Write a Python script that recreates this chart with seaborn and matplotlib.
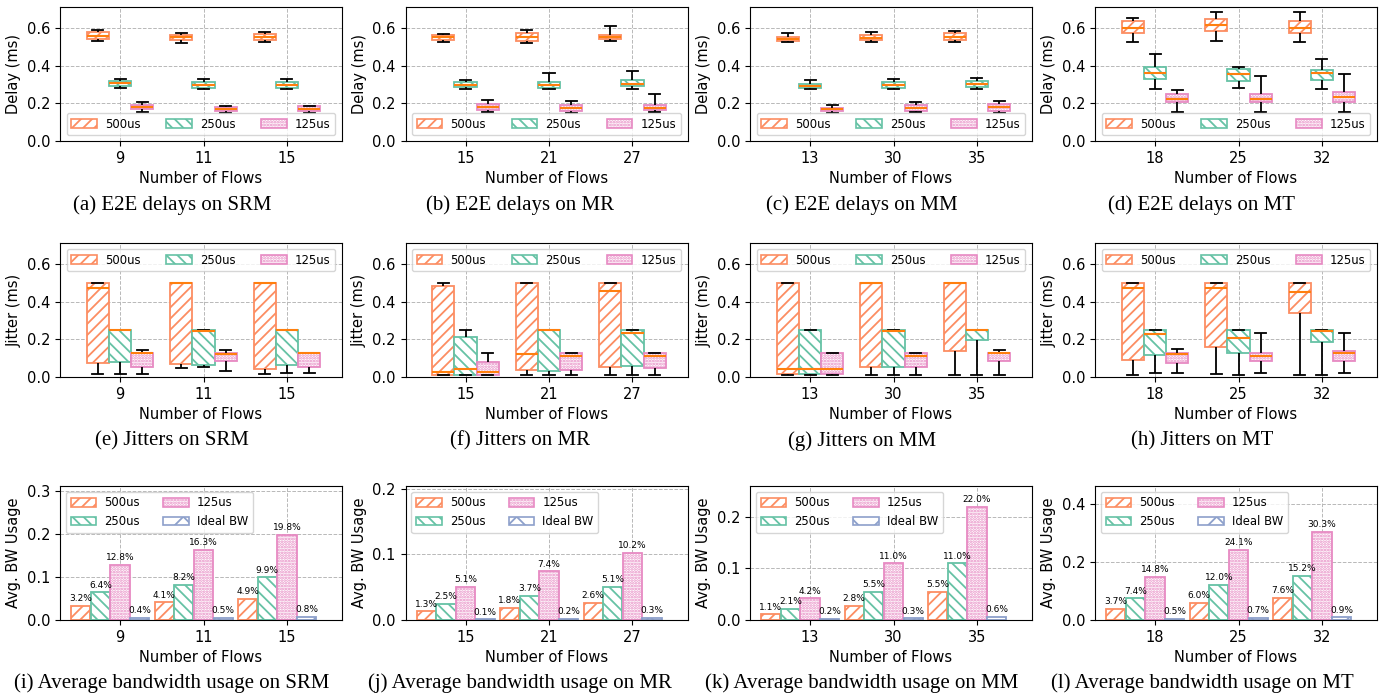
import numpy as np
import pandas as pd
import matplotlib
matplotlib.use("Agg")
import matplotlib.pyplot as plt
from matplotlib.patches import Patch
from matplotlib.ticker import MultipleLocator
import seaborn as sns

# series / styling
intervals = ["500us", "250us", "125us"]
bw_series = ["500us", "250us", "125us", "Ideal BW"]
colors = ["#fc8d62", "#66c2a5", "#e78ac3", "#8da0cb"]
hatches = ["///", "\\\\\\", "......", "x"]

flows_srm = ["9", "11", "15"]
flows_mr = ["15", "21", "27"]
flows_mm = ["13", "30", "35"]
flows_mt = ["18", "25", "32"]

# E2E delay (ms): [min, q1, median, q3, max] for each flow count
delay_srm = {
    "500us": [[0.53, 0.54, 0.556, 0.577, 0.587], [0.52, 0.535, 0.549, 0.563, 0.57], [0.522, 0.535, 0.549, 0.566, 0.578]],
    "250us": [[0.28, 0.29, 0.305, 0.316, 0.326], [0.273, 0.283, 0.297, 0.314, 0.331], [0.273, 0.282, 0.296, 0.313, 0.327]],
    "125us": [[0.156, 0.17, 0.18, 0.19, 0.204], [0.149, 0.158, 0.168, 0.18, 0.184], [0.149, 0.158, 0.172, 0.183, 0.188]],
}
delay_mr = {
    "500us": [[0.526, 0.535, 0.549, 0.56, 0.566], [0.52, 0.531, 0.55, 0.57, 0.588], [0.529, 0.538, 0.55, 0.562, 0.608]],
    "250us": [[0.278, 0.287, 0.297, 0.312, 0.322], [0.273, 0.28, 0.296, 0.313, 0.36], [0.278, 0.29, 0.304, 0.322, 0.37]],
    "125us": [[0.152, 0.163, 0.18, 0.198, 0.215], [0.149, 0.159, 0.173, 0.193, 0.21], [0.156, 0.163, 0.177, 0.19, 0.248]],
}
delay_mm = {
    "500us": [[0.522, 0.531, 0.542, 0.552, 0.573], [0.524, 0.535, 0.547, 0.559, 0.577], [0.526, 0.535, 0.552, 0.57, 0.584]],
    "250us": [[0.273, 0.283, 0.292, 0.3, 0.322], [0.274, 0.283, 0.296, 0.312, 0.33], [0.276, 0.287, 0.304, 0.318, 0.336]],
    "125us": [[0.149, 0.158, 0.168, 0.177, 0.192], [0.152, 0.161, 0.175, 0.193, 0.207], [0.15, 0.161, 0.18, 0.195, 0.21]],
}
delay_mt = {
    "500us": [[0.524, 0.573, 0.597, 0.635, 0.653], [0.529, 0.584, 0.612, 0.644, 0.685], [0.524, 0.57, 0.597, 0.635, 0.685]],
    "250us": [[0.276, 0.326, 0.36, 0.39, 0.463], [0.28, 0.317, 0.354, 0.379, 0.393], [0.278, 0.322, 0.36, 0.375, 0.434]],
    "125us": [[0.152, 0.205, 0.225, 0.248, 0.268], [0.152, 0.205, 0.225, 0.248, 0.347], [0.152, 0.207, 0.234, 0.26, 0.357]],
}

# jitter (ms): [min, q1, median, q3, max]
jitter_srm = {
    "500us": [[0.016, 0.075, 0.47, 0.5, 0.5], [0.048, 0.069, 0.5, 0.5, 0.5], [0.016, 0.041, 0.5, 0.5, 0.5]],
    "250us": [[0.016, 0.08, 0.248, 0.25, 0.25], [0.053, 0.066, 0.245, 0.25, 0.25], [0.023, 0.066, 0.248, 0.25, 0.25]],
    "125us": [[0.016, 0.055, 0.125, 0.128, 0.142], [0.034, 0.084, 0.123, 0.128, 0.142], [0.023, 0.053, 0.125, 0.128, 0.128]],
}
jitter_mr = {
    "500us": [[0.013, 0.013, 0.027, 0.48, 0.5], [0.012, 0.036, 0.123, 0.5, 0.5], [0.012, 0.053, 0.457, 0.5, 0.5]],
    "250us": [[0.013, 0.013, 0.045, 0.212, 0.25], [0.012, 0.034, 0.248, 0.25, 0.25], [0.012, 0.057, 0.235, 0.25, 0.25]],
    "125us": [[0.013, 0.013, 0.027, 0.08, 0.128], [0.012, 0.036, 0.11, 0.128, 0.128], [0.012, 0.048, 0.11, 0.128, 0.128]],
}
jitter_mm = {
    "500us": [[0.012, 0.016, 0.041, 0.5, 0.5], [0.012, 0.052, 0.5, 0.5, 0.5], [0.012, 0.14, 0.5, 0.5, 0.5]],
    "250us": [[0.012, 0.016, 0.041, 0.25, 0.25], [0.012, 0.052, 0.246, 0.25, 0.25], [0.012, 0.194, 0.247, 0.25, 0.25]],
    "125us": [[0.012, 0.016, 0.041, 0.128, 0.128], [0.012, 0.052, 0.11, 0.128, 0.128], [0.012, 0.087, 0.125, 0.128, 0.142]],
}
jitter_mt = {
    "500us": [[0.012, 0.089, 0.47, 0.5, 0.5], [0.018, 0.157, 0.47, 0.5, 0.5], [0.012, 0.34, 0.452, 0.5, 0.5]],
    "250us": [[0.02, 0.114, 0.226, 0.25, 0.25], [0.012, 0.128, 0.208, 0.25, 0.25], [0.012, 0.187, 0.246, 0.25, 0.25]],
    "125us": [[0.02, 0.075, 0.12, 0.128, 0.146], [0.02, 0.084, 0.11, 0.128, 0.231], [0.02, 0.087, 0.128, 0.14, 0.235]],
}

# average bandwidth usage (%)
bw_srm = {"500us": [3.2, 4.1, 4.9], "250us": [6.4, 8.2, 9.9], "125us": [12.8, 16.3, 19.8], "Ideal BW": [0.4, 0.5, 0.8]}
bw_mr = {"500us": [1.3, 1.8, 2.6], "250us": [2.5, 3.7, 5.1], "125us": [5.1, 7.4, 10.2], "Ideal BW": [0.1, 0.2, 0.3]}
bw_mm = {"500us": [1.1, 2.8, 5.5], "250us": [2.1, 5.5, 11.0], "125us": [4.2, 11.0, 22.0], "Ideal BW": [0.2, 0.3, 0.6]}
bw_mt = {"500us": [3.7, 6.0, 7.6], "250us": [7.4, 12.0, 15.2], "125us": [14.8, 24.1, 30.3], "Ideal BW": [0.5, 0.7, 0.9]}

plt.rcParams["hatch.linewidth"] = 1.3
W, H = 1388, 698
fig = plt.figure(figsize=(W / 100, H / 100), dpi=100)

col_left = [60, 405.5, 750, 1095]
row_top = [7, 243, 486]
ax_w, ax_h = 282, 134
XLIM = (-0.72, 2.66)


def make_ax(r, c):
    return fig.add_axes([col_left[c] / W, 1 - (row_top[r] + ax_h) / H, ax_w / W, ax_h / H])


def style_ax(ax, ylabel):
    ax.set_axisbelow(True)
    ax.grid(True, linestyle="--", color="#b8b8b8", linewidth=0.7)
    ax.set_xlabel("Number of Flows", fontsize=10.5)
    ax.set_ylabel(ylabel, fontsize=10.5)
    ax.tick_params(labelsize=10.5)
    ax.set_xlim(*XLIM)
    for s in ax.spines.values():
        s.set_color("black")


def legend_handles(names):
    return [Patch(facecolor="white", edgecolor=c, hatch=h, linewidth=1.2, label=n)
            for n, c, h in zip(names, colors, hatches)]


def box_panel(ax, summary, flows, ylabel, loc):
    rows = []
    for name in intervals:
        for f, five in zip(flows, summary[name]):
            for v in five:
                rows.append((f, name, v))
    df = pd.DataFrame(rows, columns=["flows", "interval", "value"])
    sns.boxplot(data=df, x="flows", y="value", hue="interval", order=flows,
                hue_order=intervals, palette=colors[:3], whis=(0, 100),
                linewidth=1.3, linecolor="black",
                medianprops=dict(color="#ff7f0e", linewidth=1.5),
                legend=False, ax=ax)
    for cont, c, h in zip(ax.containers, colors, hatches):
        for box in cont.boxes:
            box.set_facecolor("white")
            box.set_edgecolor(c)
            box.set_hatch(h)
            box.set_linewidth(1.3)
    style_ax(ax, ylabel)
    ax.set_ylim(0, 0.71)
    ax.yaxis.set_major_locator(MultipleLocator(0.2))
    ax.legend(handles=legend_handles(intervals), loc=loc, ncol=3, fontsize=8.4,
              columnspacing=2.2, handlelength=2.2, handletextpad=0.7)


def bar_panel(ax, values, flows, top, step):
    pos = np.arange(len(flows))
    for k, name in enumerate(bw_series):
        vals = np.array(values[name]) / 100
        sns.barplot(x=pos + (k - 2) * 0.235, y=vals, native_scale=True, width=0.23,
                    color=colors[k], errorbar=None, ax=ax)
        cont = ax.containers[-1]
        for bar in cont:
            bar.set_facecolor("white")
            bar.set_edgecolor(colors[k])
            bar.set_hatch(hatches[k])
            bar.set_linewidth(1.3)
        ax.bar_label(cont, labels=[f"{v:.1f}%" for v in values[name]], fontsize=6.5, padding=2)
    style_ax(ax, "Avg. BW Usage")
    ax.set_xticks(pos)
    ax.set_xticklabels(flows)
    ax.set_ylim(0, top)
    ax.yaxis.set_major_locator(MultipleLocator(step))
    ax.legend(handles=legend_handles(bw_series), loc="upper left", ncol=2, fontsize=8.4,
              columnspacing=2.0, handlelength=2.2, handletextpad=0.7)


delay_sets = [(delay_srm, flows_srm), (delay_mr, flows_mr), (delay_mm, flows_mm), (delay_mt, flows_mt)]
jitter_sets = [(jitter_srm, flows_srm), (jitter_mr, flows_mr), (jitter_mm, flows_mm), (jitter_mt, flows_mt)]
bw_sets = [(bw_srm, flows_srm, 0.311, 0.1), (bw_mr, flows_mr, 0.204, 0.1),
           (bw_mm, flows_mm, 0.26, 0.1), (bw_mt, flows_mt, 0.461, 0.2)]

for c, (d, f) in enumerate(delay_sets):
    box_panel(make_ax(0, c), d, f, "Delay (ms)", "lower center")
for c, (d, f) in enumerate(jitter_sets):
    box_panel(make_ax(1, c), d, f, "Jitter (ms)", "upper center")
for c, (d, f, top, step) in enumerate(bw_sets):
    bar_panel(make_ax(2, c), d, f, top, step)

# sub-captions
cap_x = [172, 520, 862, 1202]
cap_y = [205, 441, 683]
names = ["SRM", "MR", "MM", "MT"]
letters = "abcdefghijkl"
templates = ["E2E delays on {}", "Jitters on {}", "Average bandwidth usage on {}"]
for r in range(3):
    for c in range(4):
        fig.text(cap_x[c] / W, 1 - cap_y[r] / H,
                 f"({letters[r * 4 + c]}) " + templates[r].format(names[c]),
                 ha="center", va="center", family="Liberation Serif", fontsize=15)

fig.savefig("out.png", dpi=100)
